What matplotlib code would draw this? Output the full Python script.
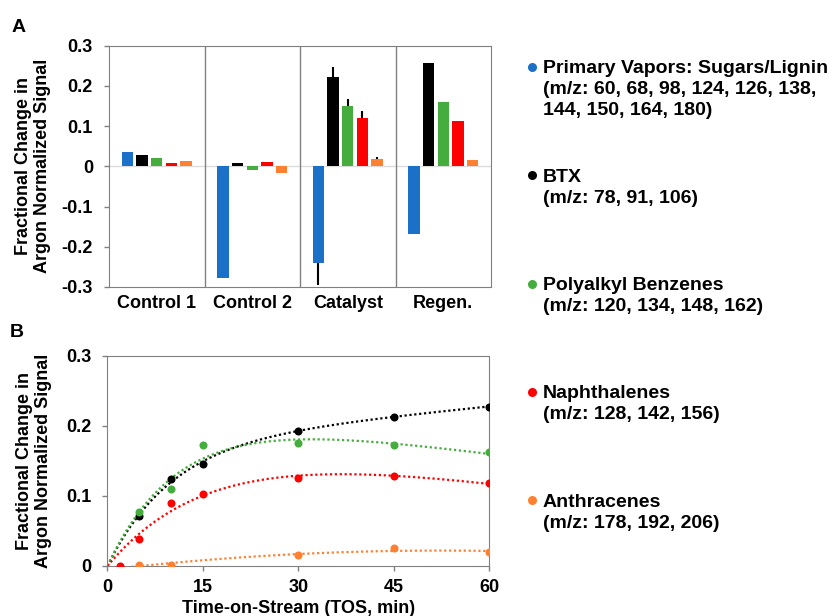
import matplotlib
matplotlib.use("Agg")
import matplotlib.pyplot as plt
import numpy as np
from matplotlib.lines import Line2D

plt.rcParams["font.family"] = ["Liberation Sans", "DejaVu Sans"]
plt.rcParams["font.weight"] = "bold"
plt.rcParams["axes.labelweight"] = "bold"
plt.rcParams["font.size"] = 13

categories = ["Control 1", "Control 2", "Catalyst", "Regen."]
names = ["Primary Vapors: Sugars/Lignin", "BTX", "Polyalkyl Benzenes",
         "Naphthalenes", "Anthracenes"]
mz_lines = [["(m/z: 60, 68, 98, 124, 126, 138,", "144, 150, 164, 180)"],
            ["(m/z: 78, 91, 106)"],
            ["(m/z: 120, 134, 148, 162)"],
            ["(m/z: 128, 142, 156)"],
            ["(m/z: 178, 192, 206)"]]
colors = ["#1b70c8", "#000000", "#45ad3d", "#ff0000", "#ff8030"]

# panel A: fractional change per category
vapors = [0.036, -0.277, -0.240, -0.169]
btx = [0.027, 0.009, 0.223, 0.256]
polyalkyl = [0.021, -0.008, 0.150, 0.159]
naphth = [0.008, 0.012, 0.120, 0.114]
anthr = [0.014, -0.016, 0.018, 0.016]
# one-sided error bars (only catalyst has them)
vapors_err = [0, 0, 0.056, 0]
btx_err = [0, 0, 0.025, 0]
polyalkyl_err = [0, 0, 0.017, 0]
naphth_err = [0, 0, 0.017, 0]
anthr_err = [0, 0, 0.006, 0]

# panel B: time on stream
btx_t = [5, 10, 15, 30, 45, 60]
btx_tos = [0.071, 0.124, 0.146, 0.193, 0.213, 0.227]
poly_t = [5, 10, 15, 30, 45, 60]
poly_tos = [0.077, 0.110, 0.172, 0.175, 0.172, 0.162]
naph_t = [2, 5, 10, 15, 30, 45, 60]
naph_tos = [0.0, 0.039, 0.090, 0.103, 0.125, 0.128, 0.118]
anth_t = [5, 10, 30, 45, 60]
anth_tos = [0.002, 0.002, 0.015, 0.025, 0.020]

fig = plt.figure(figsize=(8.35, 6.16), dpi=100)
W, H = 835, 616


def fx(px):
    return px / W


def fy(py):
    return 1 - py / H


gray = "#808080"
ylab = "Fractional Change in\nArgon Normalized Signal"

# ---- panel A
ax1 = fig.add_axes([fx(109), fy(287), fx(491 - 109), (287 - 45.7) / H])
bars = [vapors, btx, polyalkyl, naphth, anthr]
errs = [vapors_err, btx_err, polyalkyl_err, naphth_err, anthr_err]
x = np.arange(len(categories))
ax1.axhline(0, color="#dcdcdc", lw=1, zorder=0)
for i, (vals, e) in enumerate(zip(bars, errs)):
    pos = x + (i - 2) * 0.154
    ax1.bar(pos, vals, width=0.12, color=colors[i], zorder=2)
    vals = np.array(vals)
    e = np.array(e)
    lo = np.where(vals < 0, e, 0)
    hi = np.where(vals >= 0, e, 0)
    keep = e > 0
    ax1.errorbar(pos[keep], vals[keep], yerr=[lo[keep], hi[keep]], fmt="none",
                 ecolor="black", elinewidth=1.5, capsize=0, zorder=3)
for s in [0.5, 1.5, 2.5]:
    ax1.axvline(s, color=gray, lw=1, zorder=1)
ax1.set_xlim(-0.5, 3.5)
ax1.set_ylim(-0.3, 0.3)
ax1.set_xticks(x)
ax1.set_xticklabels(categories)
ax1.set_yticks([-0.3, -0.2, -0.1, 0, 0.1, 0.2, 0.3])
ax1.set_yticklabels(["-0.3", "-0.2", "-0.1", "0", "0.1", "0.2", "0.3"])
ax1.tick_params(axis="x", length=0, pad=5.5)
ax1.tick_params(axis="y", length=3.6, width=1, color=gray, pad=8)
for sp in ax1.spines.values():
    sp.set_color(gray)
ax1.set_ylabel(ylab, linespacing=1.15)
ax1.yaxis.set_label_coords(-0.152, 0.5)

# ---- panel B
ax2 = fig.add_axes([fx(107.5), fy(566), fx(489 - 107.5), (566 - 355.5) / H])
tx = np.linspace(0, 60, 300)


def sat_trend(t, y):
    # least squares a*(1-exp(-k t)) + c*t, scan k
    t = np.asarray(t, float)
    y = np.asarray(y, float)
    best = None
    for k in np.linspace(0.01, 0.6, 300):
        A = np.c_[1 - np.exp(-k * t), t]
        coef = np.linalg.lstsq(A, y, rcond=None)[0]
        sse = np.sum((A @ coef - y) ** 2)
        if best is None or sse < best[0]:
            best = (sse, k, coef)
    _, k, (a, c) = best
    return a * (1 - np.exp(-k * tx)) + c * tx


def poly_trend(t, y, deg):
    return np.polyval(np.polyfit(t, y, deg), tx)


curves = [(btx_t, btx_tos, colors[1], sat_trend(btx_t, btx_tos)),
          (poly_t, poly_tos, colors[2], sat_trend(poly_t, poly_tos)),
          (naph_t, naph_tos, colors[3], sat_trend(naph_t, naph_tos)),
          (anth_t, anth_tos, colors[4], poly_trend(anth_t, anth_tos, 2))]
for t, y, c, fit in curves:
    ax2.plot(tx, fit, color=c, lw=1.6, ls=(0, (1, 1.2)), zorder=2)
    ax2.plot(t, y, "o", color=c, markersize=5.8, markeredgewidth=0, zorder=3)
ax2.set_xlim(0, 60)
ax2.set_ylim(0, 0.3)
ax2.set_xticks([0, 15, 30, 45, 60])
ax2.set_yticks([0, 0.1, 0.2, 0.3])
ax2.set_yticklabels(["0", "0.1", "0.2", "0.3"])
ax2.tick_params(axis="x", length=3.6, width=1, color=gray, pad=5.5)
ax2.tick_params(axis="y", length=3.6, width=1, color=gray, pad=8)
for sp in ax2.spines.values():
    sp.set_color(gray)
ax2.set_ylabel(ylab, linespacing=1.15)
ax2.yaxis.set_label_coords(-0.145, 0.5)
ax2.set_xlabel("Time-on-Stream (TOS, min)", labelpad=3)

# panel letters
fig.text(fx(12), fy(32), "A", fontsize=14, va="baseline")
fig.text(fx(10), fy(337), "B", fontsize=14, va="baseline")

# legend on the right
base = [73.3, 181.7, 290, 398.3, 506.7]
for i, name in enumerate(names):
    b = base[i]
    fig.add_artist(Line2D([fx(532)], [fy(b - 6.5)], marker="o", color=colors[i],
                          markersize=6.5, markeredgewidth=0, transform=fig.transFigure))
    fig.text(fx(543), fy(b), name, fontsize=14, va="baseline")
    for j, line in enumerate(mz_lines[i]):
        fig.text(fx(543), fy(b + 21 * (j + 1)), line, fontsize=14, va="baseline")

fig.savefig("out.png", dpi=100)
